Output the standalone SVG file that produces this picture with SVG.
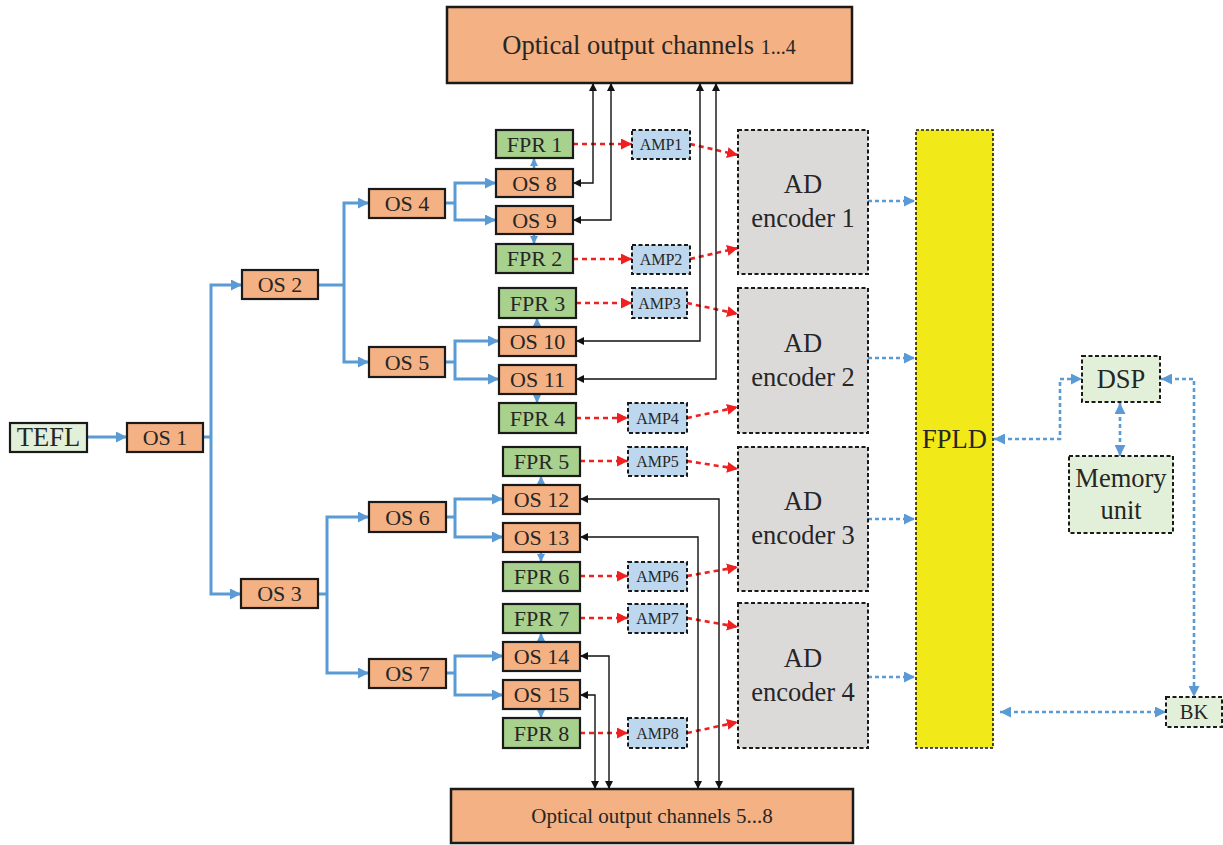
<svg xmlns="http://www.w3.org/2000/svg" width="1223" height="845" viewBox="0 0 1223 845">
  <style>
    text { font-family: "Liberation Serif", "Times New Roman", serif; fill: #262626; text-anchor: middle; }
    .os { fill: #F4B183; stroke: #1a1a1a; stroke-width: 2.2; }
    .fpr { fill: #A9D18E; stroke: #1a1a1a; stroke-width: 2.2; }
    .pale { fill: #E2F0D9; stroke: #1a1a1a; stroke-width: 2.2; }
    .paled { fill: #E2F0D9; stroke: #1a1a1a; stroke-width: 2; stroke-dasharray: 4 2.5; }
    .amp { fill: #BDD7EE; stroke: #1a1a1a; stroke-width: 2; stroke-dasharray: 4 2.5; }
    .ad { fill: #DCDAD9; stroke: #1a1a1a; stroke-width: 2; stroke-dasharray: 4 2.5; }
    .fpld { fill: #F2E918; stroke: #1a1a1a; stroke-width: 1.6; stroke-dasharray: 3 2; }
    .out { fill: #F4B183; stroke: #1a1a1a; stroke-width: 2.5; }
    .t21 { font-size: 22px; }
    .t15 { font-size: 16px; }
    .t26 { font-size: 26.5px; }
    .blue { fill: none; stroke: #5B9BD5; stroke-width: 3; }
    .bluearr { fill: none; stroke: #5B9BD5; stroke-width: 3; marker-end: url(#ab); }
    .tiny { fill: none; stroke: #5B9BD5; stroke-width: 2.5; marker-end: url(#abs); }
    .red { fill: none; stroke: #F02020; stroke-width: 2.6; stroke-dasharray: 5 4; marker-end: url(#ar); }
    .bdash { fill: none; stroke: #5B9BD5; stroke-width: 2.6; stroke-dasharray: 4 3; marker-end: url(#abd); }
    .bdash2 { fill: none; stroke: #5B9BD5; stroke-width: 2.6; stroke-dasharray: 4 3; marker-start: url(#abd); marker-end: url(#abd); }
    .blk { fill: none; stroke: #111; stroke-width: 1.4; marker-start: url(#ak); marker-end: url(#ak); }
  </style>
  <defs>
    <marker id="ab" viewBox="0 0 10 10" refX="10" refY="5" markerWidth="11" markerHeight="11" markerUnits="userSpaceOnUse" orient="auto-start-reverse">
      <path d="M0,0 L10,5 L0,10 z" fill="#5B9BD5"/>
    </marker>
    <marker id="abs" viewBox="0 0 10 10" refX="10" refY="5" markerWidth="8" markerHeight="9" markerUnits="userSpaceOnUse" orient="auto-start-reverse">
      <path d="M0,0 L10,5 L0,10 z" fill="#5B9BD5"/>
    </marker>
    <marker id="abd" viewBox="0 0 10 10" refX="10" refY="5" markerWidth="11" markerHeight="11" markerUnits="userSpaceOnUse" orient="auto-start-reverse">
      <path d="M0,0 L10,5 L0,10 z" fill="#5B9BD5"/>
    </marker>
    <marker id="ar" viewBox="0 0 10 10" refX="10" refY="5" markerWidth="11" markerHeight="11" markerUnits="userSpaceOnUse" orient="auto-start-reverse">
      <path d="M0,0 L10,5 L0,10 z" fill="#F02020"/>
    </marker>
    <marker id="ak" viewBox="0 0 10 10" refX="10" refY="5" markerWidth="9" markerHeight="8" markerUnits="userSpaceOnUse" orient="auto-start-reverse">
      <path d="M0,0 L10,5 L0,10 z" fill="#111"/>
    </marker>
  </defs>

  <!-- connectors -->
  <g id="connectors">
    <!-- splitter tree -->
    <path class="bluearr" d="M87,437 H127"/>
    <path class="blue" d="M203,437 H211"/>
    <path class="bluearr" d="M211,437 V285 H242"/>
    <path class="bluearr" d="M211,437 V594 H241"/>
    <path class="blue" d="M318,285 H344"/>
    <path class="bluearr" d="M344,285 V203 H369"/>
    <path class="bluearr" d="M344,285 V362 H369"/>
    <path class="blue" d="M318,594 H327"/>
    <path class="bluearr" d="M327,594 V517 H369"/>
    <path class="bluearr" d="M327,594 V673 H369"/>
    <path class="blue" d="M445,203 H455"/>
    <path class="bluearr" d="M455,203 V183 H496"/>
    <path class="bluearr" d="M455,203 V220 H496"/>
    <path class="blue" d="M445,362 H455"/>
    <path class="bluearr" d="M455,362 V341 H499"/>
    <path class="bluearr" d="M455,362 V379 H499"/>
    <path class="blue" d="M446,517 H455"/>
    <path class="bluearr" d="M455,517 V499 H503"/>
    <path class="bluearr" d="M455,517 V537 H503"/>
    <path class="blue" d="M446,673 H455"/>
    <path class="bluearr" d="M455,673 V656 H503"/>
    <path class="bluearr" d="M455,673 V695 H503"/>

    <!-- OS to FPR -->
    <path class="tiny" d="M534,170 V158"/>
    <path class="tiny" d="M534,233 V244"/>
    <path class="tiny" d="M537,328 V318"/>
    <path class="tiny" d="M537,393 V403"/>
    <path class="tiny" d="M541,486 V476"/>
    <path class="tiny" d="M541,551 V562"/>
    <path class="tiny" d="M541,643 V633"/>
    <path class="tiny" d="M541,708 V718"/>

    <!-- FPR to AMP to encoder -->
    <path class="red" d="M573,144 H632"/>
    <path class="red" d="M690,144 L738,155"/>
    <path class="red" d="M573,259 H632"/>
    <path class="red" d="M690,259 L738,248"/>
    <path class="red" d="M576,303 H632"/>
    <path class="red" d="M687,303 L738,314"/>
    <path class="red" d="M576,418 H628"/>
    <path class="red" d="M687,418 L738,407"/>
    <path class="red" d="M580,461 H628"/>
    <path class="red" d="M687,461 L738,469"/>
    <path class="red" d="M580,576 H628"/>
    <path class="red" d="M687,576 L738,567"/>
    <path class="red" d="M580,618 H628"/>
    <path class="red" d="M687,618 L738,627"/>
    <path class="red" d="M580,733 H628"/>
    <path class="red" d="M687,733 L738,722"/>

    <!-- encoders to FPLD -->
    <path class="bdash" d="M868,201 H915"/>
    <path class="bdash" d="M868,358 H915"/>
    <path class="bdash" d="M868,519 H915"/>
    <path class="bdash" d="M868,677 H915"/>

    <!-- control links -->
    <path class="bdash2" d="M994,439 H1060 V379 H1082"/>
    <path class="bdash2" d="M1120,403 V456"/>
    <path class="bdash2" d="M1161,379 H1194 V697"/>
    <path class="bdash2" d="M1000,712 H1166"/>

    <!-- optical outputs -->
    <path class="blk" d="M573,183 H593 V83"/>
    <path class="blk" d="M573,220 H611 V83"/>
    <path class="blk" d="M576,341 H700 V83"/>
    <path class="blk" d="M576,379 H716 V83"/>
    <path class="blk" d="M580,499 H719 V789"/>
    <path class="blk" d="M580,537 H698 V789"/>
    <path class="blk" d="M580,656 H609 V789"/>
    <path class="blk" d="M580,695 H595 V789"/>
  </g>

  <g id="out14">
    <rect class="out" x="447" y="7" width="405" height="76"/>
    <text x="649" y="54" style="font-size:26.5px">Optical output channels <tspan style="font-size:20px">1...4</tspan></text>
  </g>
  <g id="out58">
    <rect class="out" x="451" y="789" width="402" height="54"/>
    <text x="652" y="823" style="font-size:21px">Optical output channels 5...8</text>
  </g>

  <g id="tefl"><rect class="pale" x="10" y="423" width="77" height="29"/><text class="t26" x="48.5" y="446">TEFL</text></g>
  <g id="os1"><rect class="os" x="127" y="423" width="76" height="29"/><text class="t21" x="165" y="445">OS 1</text></g>
  <g id="os2"><rect class="os" x="242" y="270" width="76" height="29"/><text class="t21" x="280" y="292">OS 2</text></g>
  <g id="os3"><rect class="os" x="241" y="579" width="77" height="29"/><text class="t21" x="279.5" y="601">OS 3</text></g>
  <g id="os4"><rect class="os" x="369" y="189" width="76" height="29"/><text class="t21" x="407" y="211">OS 4</text></g>
  <g id="os5"><rect class="os" x="369" y="347" width="76" height="30"/><text class="t21" x="407" y="370">OS 5</text></g>
  <g id="os6"><rect class="os" x="369" y="502" width="77" height="30"/><text class="t21" x="407.5" y="525">OS 6</text></g>
  <g id="os7"><rect class="os" x="369" y="659" width="77" height="29"/><text class="t21" x="407.5" y="681">OS 7</text></g>

  <g id="fpr1"><rect class="fpr" x="496" y="130" width="77" height="28"/><text class="t21" x="534.5" y="152">FPR 1</text></g>
  <g id="os8"><rect class="os" x="496" y="169" width="77" height="28"/><text class="t21" x="534.5" y="191">OS 8</text></g>
  <g id="os9"><rect class="os" x="496" y="206" width="77" height="28"/><text class="t21" x="534.5" y="228">OS 9</text></g>
  <g id="fpr2"><rect class="fpr" x="496" y="244" width="77" height="29"/><text class="t21" x="534.5" y="266">FPR 2</text></g>

  <g id="fpr3"><rect class="fpr" x="499" y="288" width="77" height="30"/><text class="t21" x="537.5" y="311">FPR 3</text></g>
  <g id="os10"><rect class="os" x="499" y="327" width="77" height="29"/><text class="t21" x="537.5" y="349">OS 10</text></g>
  <g id="os11"><rect class="os" x="499" y="365" width="77" height="29"/><text class="t21" x="537.5" y="387">OS 11</text></g>
  <g id="fpr4"><rect class="fpr" x="499" y="403" width="77" height="30"/><text class="t21" x="537.5" y="426">FPR 4</text></g>

  <g id="fpr5"><rect class="fpr" x="503" y="447" width="77" height="29"/><text class="t21" x="541.5" y="469">FPR 5</text></g>
  <g id="os12"><rect class="os" x="503" y="485" width="77" height="29"/><text class="t21" x="541.5" y="507">OS 12</text></g>
  <g id="os13"><rect class="os" x="503" y="523" width="77" height="29"/><text class="t21" x="541.5" y="545">OS 13</text></g>
  <g id="fpr6"><rect class="fpr" x="503" y="562" width="77" height="29"/><text class="t21" x="541.5" y="584">FPR 6</text></g>

  <g id="fpr7"><rect class="fpr" x="503" y="604" width="77" height="29"/><text class="t21" x="541.5" y="626">FPR 7</text></g>
  <g id="os14"><rect class="os" x="503" y="642" width="77" height="29"/><text class="t21" x="541.5" y="664">OS 14</text></g>
  <g id="os15"><rect class="os" x="503" y="680" width="77" height="29"/><text class="t21" x="541.5" y="702">OS 15</text></g>
  <g id="fpr8"><rect class="fpr" x="503" y="718" width="77" height="30"/><text class="t21" x="541.5" y="741">FPR 8</text></g>

  <g id="amp1"><rect class="amp" x="632" y="130" width="58" height="29"/><text class="t15" x="661" y="150">AMP1</text></g>
  <g id="amp2"><rect class="amp" x="632" y="245" width="58" height="29"/><text class="t15" x="661" y="265">AMP2</text></g>
  <g id="amp3"><rect class="amp" x="632" y="288" width="55" height="30"/><text class="t15" x="659.5" y="309">AMP3</text></g>
  <g id="amp4"><rect class="amp" x="628" y="403" width="59" height="30"/><text class="t15" x="657.5" y="424">AMP4</text></g>
  <g id="amp5"><rect class="amp" x="628" y="447" width="59" height="29"/><text class="t15" x="657.5" y="467">AMP5</text></g>
  <g id="amp6"><rect class="amp" x="628" y="562" width="59" height="29"/><text class="t15" x="657.5" y="582">AMP6</text></g>
  <g id="amp7"><rect class="amp" x="628" y="604" width="59" height="29"/><text class="t15" x="657.5" y="624">AMP7</text></g>
  <g id="amp8"><rect class="amp" x="628" y="718" width="59" height="30"/><text class="t15" x="657.5" y="739">AMP8</text></g>

  <g id="adenc1"><rect class="ad" x="738" y="130" width="130" height="144"/><text class="t26" x="803" y="193">AD</text><text class="t26" x="803" y="227">encoder 1</text></g>
  <g id="adenc2"><rect class="ad" x="738" y="288" width="130" height="145"/><text class="t26" x="803" y="352">AD</text><text class="t26" x="803" y="386">encoder 2</text></g>
  <g id="adenc3"><rect class="ad" x="738" y="447" width="130" height="144"/><text class="t26" x="803" y="510">AD</text><text class="t26" x="803" y="544">encoder 3</text></g>
  <g id="adenc4"><rect class="ad" x="738" y="603" width="130" height="145"/><text class="t26" x="803" y="667">AD</text><text class="t26" x="803" y="701">encoder 4</text></g>

  <g id="fpld"><rect class="fpld" x="916" y="130" width="77" height="618"/><text class="t26" x="954.5" y="448">FPLD</text></g>
  <g id="dsp"><rect class="paled" x="1082" y="356" width="78" height="46"/><text class="t26" x="1121" y="388">DSP</text></g>
  <g id="memory"><rect class="paled" x="1069" y="456" width="104" height="77"/><text class="t26" x="1121" y="487">Memory</text><text class="t26" x="1121" y="519">unit</text></g>
  <g id="bk"><rect class="paled" x="1166" y="697" width="56" height="30"/><text x="1194" y="719" style="font-size:20.5px">BK</text></g>
</svg>
